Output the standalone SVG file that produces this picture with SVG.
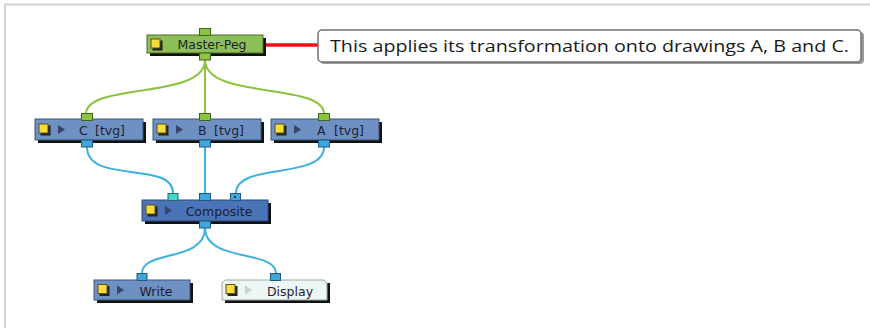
<svg xmlns="http://www.w3.org/2000/svg" width="870" height="328" viewBox="0 0 870 328">
  <style>
    .lbl { font-family: "DejaVu Sans", Verdana, sans-serif; font-size: 12.5px; fill: #1a1f33; }
    .shadow { fill: #111; }
    .peg { fill: #8dbf57; stroke: #4a6a2a; stroke-width: 1; }
    .elem { fill: #6e90c2; stroke: #3d5578; stroke-width: 1; }
    .comp { fill: #4b74b8; stroke: #2f4a7a; stroke-width: 1; }
    .disp { fill: #eef5f5; stroke: #9aa8a8; stroke-width: 1; }
    .sq { fill: #f7dc3a; stroke: #5a5020; stroke-width: 1; }
    .sqs { fill: #222; }
    .tri { fill: #34466e; }
    .trid { fill: #c8cfcf; }
    .pg { fill: #8cc43e; stroke: #3d6420; stroke-width: 1; }
    .pb { fill: #3ea7d9; stroke: #1f5a80; stroke-width: 1; }
    .pc { fill: #42d6cf; stroke: #1f6a70; stroke-width: 1; }
    .wg { fill: none; stroke: #8cc43e; stroke-width: 2; }
    .wb { fill: none; stroke: #3eb0e0; stroke-width: 2; }
  </style>
  <rect x="0" y="0" width="870" height="328" fill="#ffffff"/>
  <path d="M5,328 V4.5 H870" fill="none" stroke="#d2d2d2" stroke-width="2"/>

  <g id="connectors">
    <path class="wg" d="M205,60 C205,100 86,82 86,114"/>
    <path class="wg" d="M205,60 L205,114"/>
    <path class="wg" d="M205,60 C205,100 324,82 324,114"/>
    <path class="wb" d="M87,147 C87,185 173,160 173,193"/>
    <path class="wb" d="M205,147 L205,193"/>
    <path class="wb" d="M324,147 C324,180 236,162 236,193"/>
    <path class="wb" d="M205,228 C205,262 142,250 142,273"/>
    <path class="wb" d="M205,228 C205,262 276,250 276,273"/>
    <path d="M266,45 H318" stroke="#ee1111" stroke-width="3.5" fill="none"/>
  </g>

  <g id="master-peg">
    <rect class="shadow" x="150" y="38" width="116" height="18"/>
    <rect class="peg" x="147" y="35" width="116" height="18"/>
    <rect class="sqs" x="152.5" y="40.5" width="10" height="10"/>
    <rect class="sq" x="151" y="39" width="9" height="9"/>
    <text class="lbl" x="212" y="49" text-anchor="middle">Master-Peg</text>
    <rect class="pg" x="199.5" y="28.5" width="11" height="7"/>
    <rect class="pg" x="199.5" y="53" width="11" height="7"/>
  </g>

  <g id="callout">
    <rect x="320" y="32" width="544" height="32" rx="4" fill="#9a9a9a"/>
    <rect x="318" y="30" width="543" height="32" rx="4" fill="#ffffff" stroke="#707070" stroke-width="1.5"/>
    <text x="330" y="52" font-family="'Open Sans', 'Liberation Sans', Arial, sans-serif" font-size="17" fill="#1a1a1a" textLength="519" lengthAdjust="spacingAndGlyphs">This applies its transformation onto drawings A, B and C.</text>
  </g>

  <g id="node-c">
    <rect class="shadow" x="38" y="122" width="108" height="21"/>
    <rect class="elem" x="35" y="119" width="108" height="21"/>
    <rect class="sqs" x="40.5" y="125.5" width="10" height="10"/>
    <rect class="sq" x="39" y="124" width="9" height="9"/>
    <path class="tri" d="M58,125 L65,129.5 L58,134 Z"/>
    <text class="lbl" x="79" y="134.5">C<tspan x="95">[tvg]</tspan></text>
    <rect class="pg" x="81.5" y="113.5" width="11" height="7"/>
    <rect class="pb" x="81.5" y="140" width="11" height="7"/>
  </g>

  <g id="node-b">
    <rect class="shadow" x="156" y="122" width="108" height="21"/>
    <rect class="elem" x="153" y="119" width="108" height="21"/>
    <rect class="sqs" x="158.5" y="125.5" width="10" height="10"/>
    <rect class="sq" x="157" y="124" width="9" height="9"/>
    <path class="tri" d="M176,125 L183,129.5 L176,134 Z"/>
    <text class="lbl" x="198" y="134.5">B<tspan x="214">[tvg]</tspan></text>
    <rect class="pg" x="199.5" y="113.5" width="11" height="7"/>
    <rect class="pb" x="199.5" y="140" width="11" height="7"/>
  </g>

  <g id="node-a">
    <rect class="shadow" x="274" y="122" width="108" height="21"/>
    <rect class="elem" x="271" y="119" width="108" height="21"/>
    <rect class="sqs" x="276.5" y="125.5" width="10" height="10"/>
    <rect class="sq" x="275" y="124" width="9" height="9"/>
    <path class="tri" d="M294,125 L301,129.5 L294,134 Z"/>
    <text class="lbl" x="317" y="134.5">A<tspan x="334">[tvg]</tspan></text>
    <rect class="pg" x="318.5" y="113.5" width="11" height="7"/>
    <rect class="pb" x="318.5" y="140" width="11" height="7"/>
  </g>

  <g id="composite">
    <rect class="shadow" x="145" y="203" width="126" height="21"/>
    <rect class="comp" x="142" y="200" width="126" height="21"/>
    <rect class="sqs" x="147.5" y="206.5" width="10" height="10"/>
    <rect class="sq" x="146" y="205" width="9" height="9"/>
    <path class="tri" d="M165,206 L172,210.5 L165,215 Z"/>
    <text class="lbl" x="219" y="215.5" text-anchor="middle">Composite</text>
    <rect class="pc" x="168" y="193.5" width="10" height="7"/>
    <rect class="pb" x="199.5" y="193.5" width="11" height="7"/>
    <rect class="pb" x="230.5" y="193.5" width="10" height="7"/>
    <rect x="234" y="196" width="2" height="2" fill="#1f3a50"/>
    <rect class="pb" x="199.5" y="221" width="11" height="7"/>
  </g>

  <g id="write">
    <rect class="shadow" x="97" y="283" width="96" height="20"/>
    <rect class="elem" x="94" y="280" width="96" height="20"/>
    <rect class="sqs" x="99.5" y="286" width="10" height="10"/>
    <rect class="sq" x="98" y="284.5" width="9" height="9"/>
    <path class="tri" d="M117,285.5 L124,290 L117,294.5 Z"/>
    <text class="lbl" x="156" y="295.5" text-anchor="middle">Write</text>
    <rect class="pb" x="137" y="273.5" width="10" height="7"/>
  </g>

  <g id="display">
    <rect class="shadow" x="225" y="283" width="105" height="20"/>
    <path class="disp" d="M225,280 H324 L327,283 V300 H222 V283 Z"/>
    <rect class="sqs" x="227.5" y="286" width="10" height="10"/>
    <rect class="sq" x="226" y="284.5" width="9" height="9"/>
    <path class="trid" d="M245,285.5 L252,290 L245,294.5 Z"/>
    <text class="lbl" x="290" y="295.5" text-anchor="middle">Display</text>
    <rect class="pb" x="270.5" y="273.5" width="10" height="7"/>
  </g>
</svg>
